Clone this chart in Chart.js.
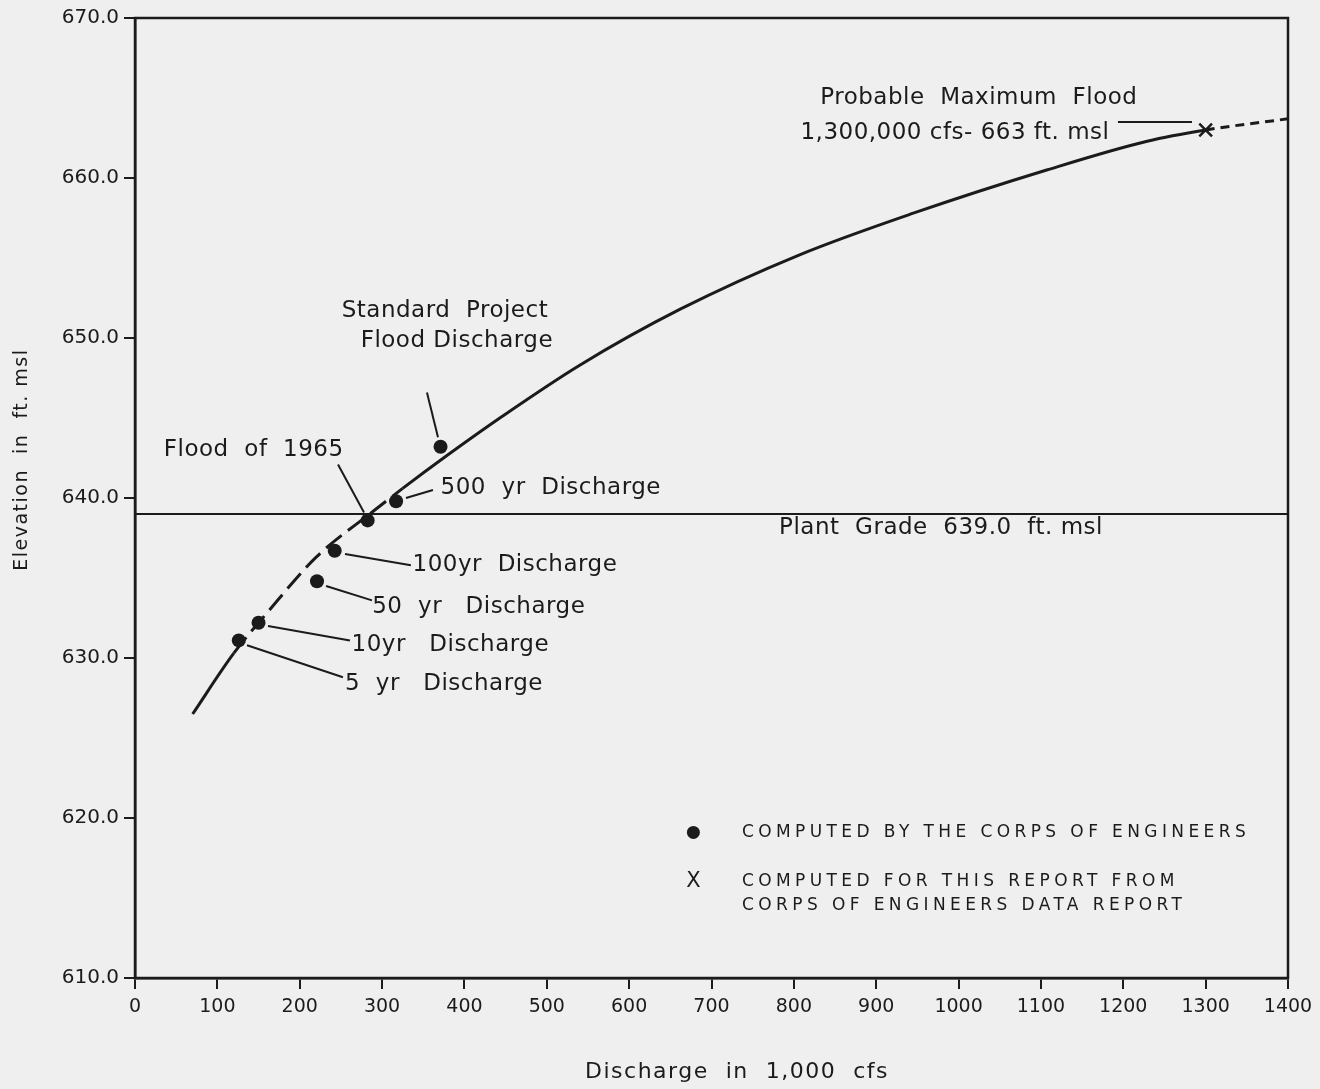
<!DOCTYPE html>
<html>
<head>
<meta charset="utf-8">
<script src="https://cdn.jsdelivr.net/npm/chart.js@4.4.1/dist/chart.umd.min.js"></script>
<style>
  html, body { margin: 0; padding: 0; background: #efefef; }
  canvas { display: block; }
</style>
</head>
<body>
<canvas id="c" width="1320" height="1089"></canvas>
<script>
// ---------------- data ----------------
const xTickValues = [0,100,200,300,400,500,600,700,800,900,1000,1100,1200,1300,1400];
const yTickValues = [610,620,630,640,650,660,670];
const xTitle = 'Discharge  in  1,000  cfs';
const yTitle = 'Elevation  in  ft. msl';

// rating curve (discharge in 1,000 cfs, elevation ft msl)
const curveQ    = [70, 120, 160, 220, 290, 325, 380, 443, 540, 662, 807, 945, 1107, 1229, 1300, 1400];
const curveElev = [626.5, 630.3, 632.8, 636.3, 639.2, 640.6, 642.7, 645.0, 648.3, 651.8, 655.2, 657.8, 660.5, 662.3, 663.0, 663.7];
const dashedRanges = [[120, 325], [1300, 1400]];

// points computed by the Corps of Engineers
const pointNames = ['5 yr', '10 yr', '50 yr', '100 yr', 'Flood of 1965', '500 yr', 'Standard Project Flood'];
const pointQ     = [126, 150, 221, 242.5, 282.5, 317, 371];
const pointElev  = [631.1, 632.2, 634.8, 636.7, 638.6, 639.8, 643.2];

// probable maximum flood (computed for this report)
const pmfQ    = [1300];
const pmfElev = [663.0];

const plantGradeElev = 639.0;

// annotation texts (anchored in data units, left aligned)
const noteTexts = ['Standard  Project', 'Flood Discharge', 'Flood  of  1965', '500  yr  Discharge',
                   'Plant  Grade  639.0  ft. msl', '100yr  Discharge', '50  yr   Discharge', '10yr   Discharge',
                   '5  yr   Discharge', 'Probable  Maximum  Flood', '1,300,000 cfs- 663 ft. msl'];
const noteQ    = [251, 274, 35, 371, 782, 337, 288, 263, 255, 832, 808];
const noteElev = [651.7, 649.8, 643.0, 640.6, 638.1, 635.8, 633.2, 630.8, 628.4, 665.0, 662.8];

// leader lines
const leaderQ1    = [354.5, 246.5, 329, 255, 232, 161.5, 136, 1193.5];
const leaderElev1 = [646.6, 642.1, 640.0, 636.5, 634.5, 632.0, 630.8, 663.5];
const leaderQ2    = [367.9, 278.1, 361.8, 335, 287.8, 261, 252.5, 1283.4];
const leaderElev2 = [643.8, 639.1, 640.5, 635.8, 633.6, 631.1, 628.8, 663.5];

// legend
const legendDotText = ['COMPUTED BY THE CORPS OF ENGINEERS'];
const legendXText = ['COMPUTED FOR THIS REPORT FROM', 'CORPS OF ENGINEERS DATA REPORT'];
const legendSymbolQ = 678, legendTextQ = 737;
const legendDotElev = 619.1, legendXElev = [616.0, 614.55];

// ---------------- styling ----------------
const ink = '#1b1b1b';
const FONT = '"DejaVu Sans", sans-serif';

const bgPlugin = {
  id: 'bg',
  beforeDraw(chart) {
    const ctx = chart.ctx;
    ctx.save();
    ctx.fillStyle = '#efefef';
    ctx.fillRect(0, 0, chart.width, chart.height);
    ctx.restore();
  },
  afterDraw(chart) {
    const { ctx, chartArea: a } = chart;
    ctx.save();
    ctx.strokeStyle = ink;
    ctx.lineWidth = 2.5;
    ctx.strokeRect(a.left, a.top, a.right - a.left, a.bottom - a.top);

    // axis titles
    const xs = chart.scales.x, ys = chart.scales.y;
    ctx.fillStyle = ink;
    ctx.textAlign = 'center';
    ctx.textBaseline = 'middle';
    ctx.font = '22px ' + FONT;
    ctx.letterSpacing = '1.5px';
    ctx.fillText(xTitle, xs.getPixelForValue(731), a.bottom + 94);
    ctx.translate(22, ys.getPixelForValue(642.4));
    ctx.rotate(-Math.PI / 2);
    ctx.font = '19px ' + FONT;
    ctx.letterSpacing = '1.5px';
    ctx.fillText(yTitle, 0, 0);
    ctx.restore();
  }
};

const annotPlugin = {
  id: 'annot',
  afterDatasetsDraw(chart) {
    const { ctx } = chart;
    const xs = chart.scales.x, ys = chart.scales.y;
    const px = q => xs.getPixelForValue(q);
    const py = e => ys.getPixelForValue(e);
    ctx.save();
    ctx.strokeStyle = ink;
    ctx.lineWidth = 2;
    for (let i = 0; i < leaderQ1.length; i++) {
      ctx.beginPath();
      ctx.moveTo(px(leaderQ1[i]), py(leaderElev1[i]));
      ctx.lineTo(px(leaderQ2[i]), py(leaderElev2[i]));
      ctx.stroke();
    }
    ctx.fillStyle = ink;
    ctx.textAlign = 'left';
    ctx.textBaseline = 'middle';
    ctx.font = '23px ' + FONT;
    ctx.letterSpacing = '0.5px';
    noteTexts.forEach((t, i) => ctx.fillText(t, px(noteQ[i]), py(noteElev[i])));

    // legend
    ctx.font = '17px ' + FONT;
    ctx.letterSpacing = '4.4px';
    ctx.fillText(legendDotText[0], px(legendTextQ), py(legendDotElev));
    legendXText.forEach((t, i) => ctx.fillText(t, px(legendTextQ), py(legendXElev[i])));
    ctx.beginPath();
    ctx.arc(px(legendSymbolQ), py(legendDotElev), 6.5, 0, Math.PI * 2);
    ctx.fill();
    ctx.letterSpacing = '0px';
    ctx.textAlign = 'center';
    ctx.font = '21px ' + FONT;
    ctx.fillText('X', px(legendSymbolQ), py(legendXElev[0]));
    ctx.restore();
  }
};

const curveData = curveQ.map((q, i) => ({ x: q, y: curveElev[i] }));
const inDashed = q => dashedRanges.some(r => q >= r[0] && q < r[1]);

new Chart(document.getElementById('c'), {
  type: 'line',
  data: {
    datasets: [
      {
        label: 'Computed by the Corps of Engineers',
        data: pointQ.map((q, i) => ({ x: q, y: pointElev[i] })),
        showLine: false,
        pointRadius: 7,
        pointBackgroundColor: ink,
        pointBorderWidth: 0,
        order: 1
      },
      {
        label: 'Computed for this report from Corps of Engineers data report',
        data: pmfQ.map((q, i) => ({ x: q, y: pmfElev[i] })),
        showLine: false,
        pointStyle: 'crossRot',
        pointRadius: 9,
        pointBorderWidth: 2.5,
        pointBorderColor: ink,
        order: 1
      },
      {
        label: 'Rating curve',
        data: curveData,
        borderColor: ink,
        borderWidth: 3,
        pointRadius: 0,
        cubicInterpolationMode: 'monotone',
        segment: {
          borderDash: ctx => {
            const q = ctx.p0.parsed.x;
            if (!inDashed(q)) return undefined;
            return q >= 1300 ? [9, 6] : [20, 8];
          }
        },
        order: 2
      },
      {
        label: 'Plant Grade',
        data: [{ x: 0, y: plantGradeElev }, { x: 1400, y: plantGradeElev }],
        borderColor: ink,
        borderWidth: 2,
        pointRadius: 0,
        order: 3
      }
    ]
  },
  options: {
    responsive: false,
    animation: false,
    layout: { padding: { left: 0, right: 32, top: 18, bottom: 0 } },
    plugins: { legend: { display: false }, tooltip: { enabled: false } },
    scales: {
      x: {
        type: 'linear',
        min: 0, max: 1400,
        afterBuildTicks: s => { s.ticks = xTickValues.map(v => ({ value: v })); },
        afterFit: s => { s.height = 111; },
        ticks: { color: ink, font: { family: FONT, size: 19 }, padding: 7, maxRotation: 0, autoSkip: false,
                 callback: v => String(v) },
        grid: { display: true, drawOnChartArea: false, drawTicks: true, tickLength: 11, color: ink, lineWidth: 2 },
        border: { display: true, color: ink, width: 2.5 },
        title: { display: false, text: xTitle }
      },
      y: {
        type: 'linear',
        min: 610, max: 670,
        afterBuildTicks: s => { s.ticks = yTickValues.map(v => ({ value: v })); },
        afterFit: s => { s.width = 135; },
        ticks: { color: ink, font: { family: FONT, size: 20 }, padding: 5, autoSkip: false,
                 callback: v => Number(v).toFixed(1) },
        grid: { display: true, drawOnChartArea: false, drawTicks: true, tickLength: 11, color: ink, lineWidth: 2 },
        border: { display: true, color: ink, width: 2.5 },
        title: { display: false, text: yTitle }
      }
    }
  },
  plugins: [bgPlugin, annotPlugin]
});
</script>
</body>
</html>
